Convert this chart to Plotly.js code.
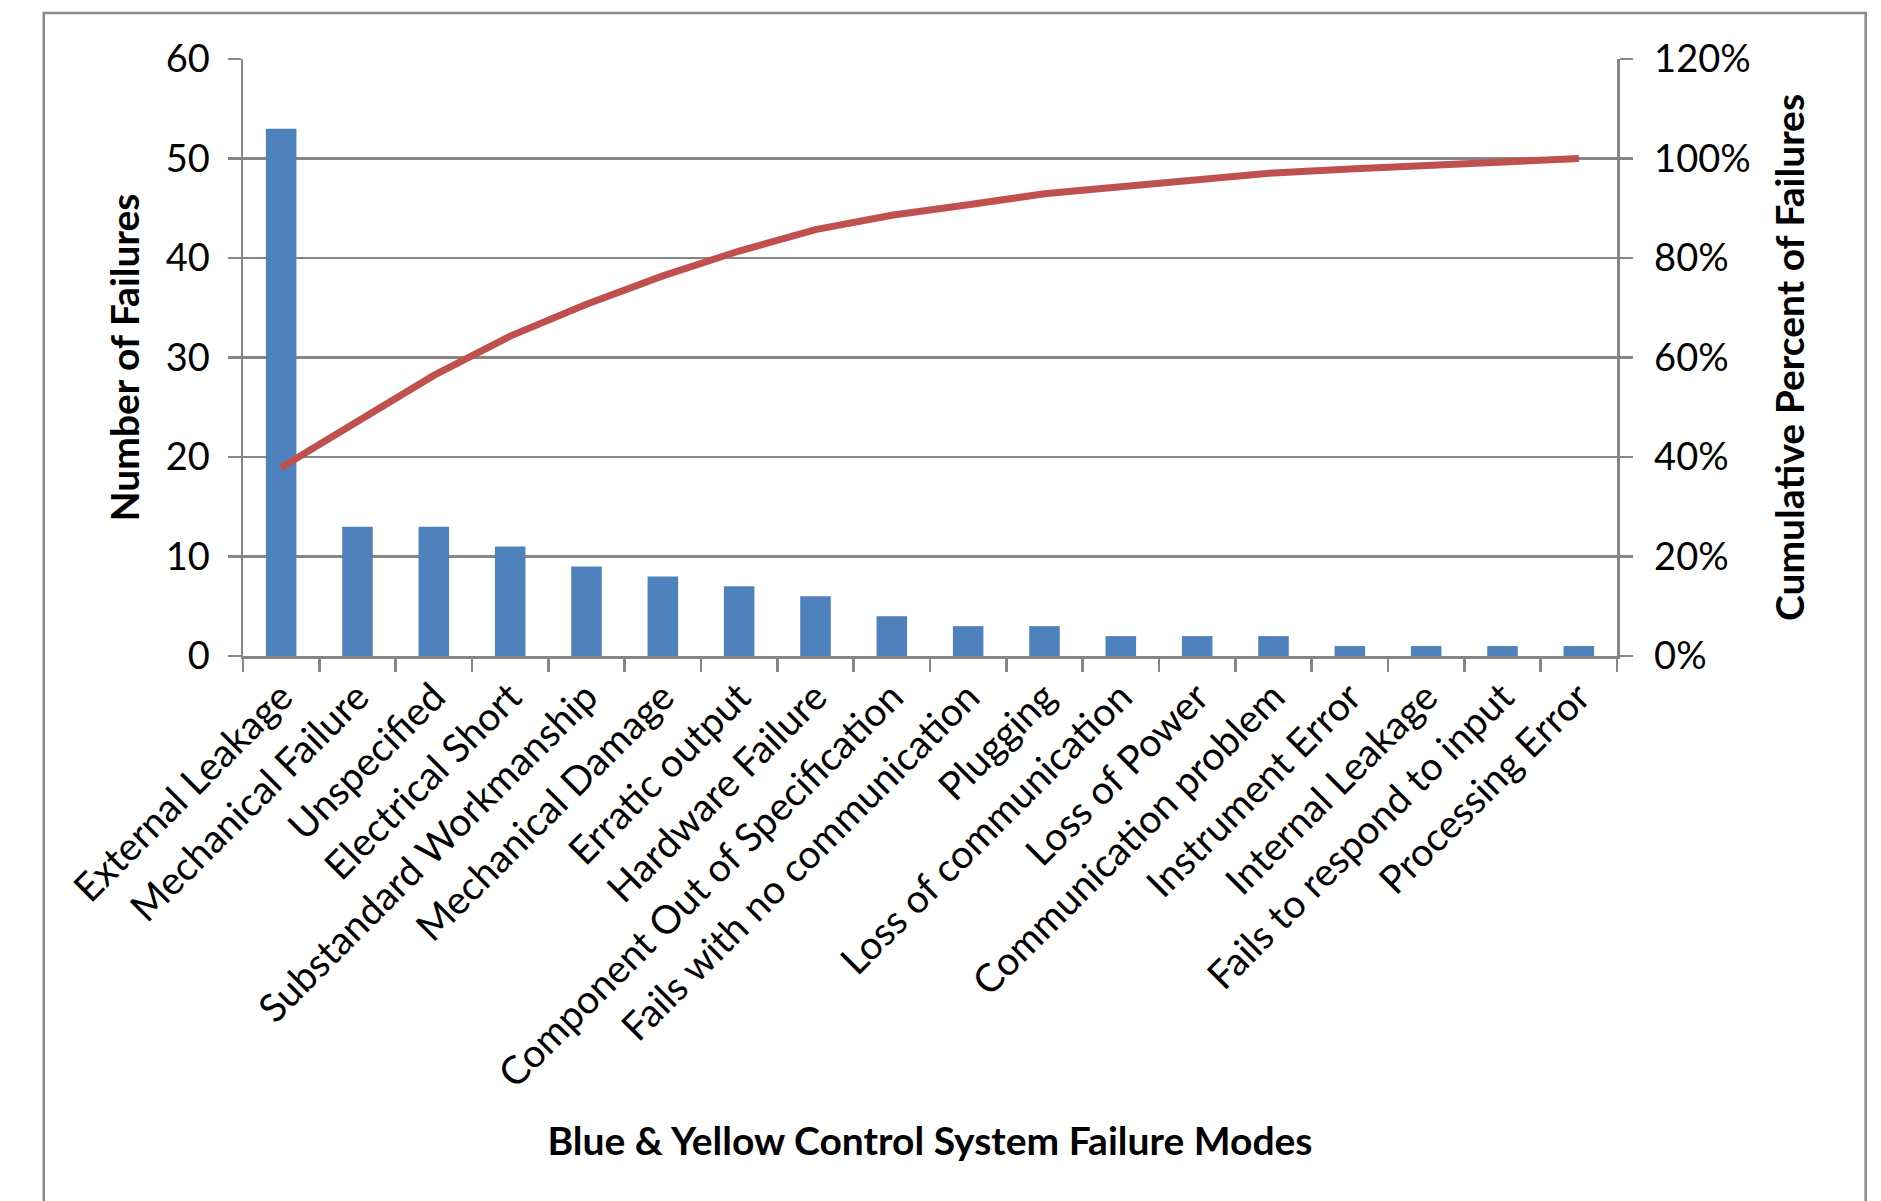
<!DOCTYPE html>
<html>
<head>
<meta charset="utf-8">
<script src="https://cdn.plot.ly/plotly-3.0.1.min.js"></script>
<style>
html,body{margin:0;padding:0;background:#fff;}
#chart{width:1881px;height:1201px;}
</style>
</head>
<body>
<div id="chart"></div>
<script>
const categories = [
  "External Leakage", "Mechanical Failure", "Unspecified", "Electrical Short",
  "Substandard Workmanship", "Mechanical Damage", "Erratic output", "Hardware Failure",
  "Component Out of Specification", "Fails with no communication", "Plugging",
  "Loss of communication", "Loss of Power", "Communication problem", "Instrument Error",
  "Internal Leakage", "Fails to respond to input", "Processing Error"
];
const failureCounts = [53, 13, 13, 11, 9, 8, 7, 6, 4, 3, 3, 2, 2, 2, 1, 1, 1, 1];
const cumulativePercent = [0.379, 0.471, 0.564, 0.643, 0.707, 0.764, 0.814, 0.857, 0.886,
  0.907, 0.929, 0.943, 0.957, 0.971, 0.979, 0.986, 0.993, 1.0];
const yTickVals = [0, 10, 20, 30, 40, 50, 60];
const y2TickVals = [0, 0.2, 0.4, 0.6, 0.8, 1.0, 1.2];

const FONT = "Lato, 'Open Sans', sans-serif";
const GRID = "#868686";

const traces = [
  {
    type: "bar",
    x: categories,
    y: failureCounts,
    name: "Number of Failures",
    marker: {color: "#4F81BD"},
    width: 0.4,
    hoverinfo: "x+y"
  },
  {
    type: "scatter",
    mode: "lines",
    x: categories,
    y: cumulativePercent,
    yaxis: "y2",
    name: "Cumulative Percent",
    line: {color: "#C0504D", width: 7},
    hoverinfo: "x+y"
  }
];

const layout = {
  width: 1881,
  height: 1201,
  paper_bgcolor: "#ffffff",
  plot_bgcolor: "#ffffff",
  showlegend: false,
  margin: {l: 243, r: 264, t: 59, b: 545, pad: 0},
  font: {family: FONT, color: "#000000", size: 38},
  xaxis: {
    type: "category",
    tickson: "boundaries",
    ticks: "outside",
    ticklen: 13,
    tickwidth: 2.5,
    tickcolor: GRID,
    showline: true,
    linecolor: GRID,
    linewidth: 2.5,
    showgrid: false,
    tickangle: -45,
    tickfont: {family: FONT, size: 39, color: "#000"},
    automargin: false,
    title: {
      text: "Blue &amp; Yellow Control System Failure Modes",
      font: {family: FONT, size: 39, color: "#000", weight: "bold"},
      standoff: 33
    }
  },
  yaxis: {
    range: [0, 60],
    tickvals: yTickVals,
    ticks: "outside",
    ticklen: 13,
    tickwidth: 2.5,
    tickcolor: GRID,
    showline: true,
    linecolor: GRID,
    linewidth: 2.5,
    showgrid: true,
    gridcolor: GRID,
    gridwidth: 2.5,
    zeroline: false,
    ticklabelstandoff: 10,
    tickfont: {family: FONT, size: 38, color: "#000"},
    automargin: false,
    title: {
      text: "Number of Failures",
      font: {family: FONT, size: 39, color: "#000", weight: "bold"},
      standoff: 14
    }
  },
  yaxis2: {
    overlaying: "y",
    side: "right",
    range: [0, 1.2],
    tickvals: y2TickVals,
    tickformat: ".0%",
    ticks: "outside",
    ticklen: 13,
    tickwidth: 2.5,
    tickcolor: GRID,
    showline: true,
    linecolor: GRID,
    linewidth: 2.5,
    showgrid: false,
    zeroline: false,
    ticklabelstandoff: 14,
    tickfont: {family: FONT, size: 38, color: "#000"},
    automargin: false,
    title: {
      text: "Cumulative Percent of Failures",
      font: {family: FONT, size: 39, color: "#000", weight: "bold"},
      standoff: 27
    }
  },
  shapes: [
    {
      type: "rect",
      xref: "paper", yref: "paper",
      x0: -0.145, x1: 1.181, y0: -0.95, y1: 1.077,
      line: {color: "#8a8a8a", width: 2.5},
      fillcolor: "rgba(0,0,0,0)",
      layer: "below"
    }
  ]
};

Plotly.newPlot("chart", traces, layout, {staticPlot: true, displayModeBar: false});
</script>
</body>
</html>
